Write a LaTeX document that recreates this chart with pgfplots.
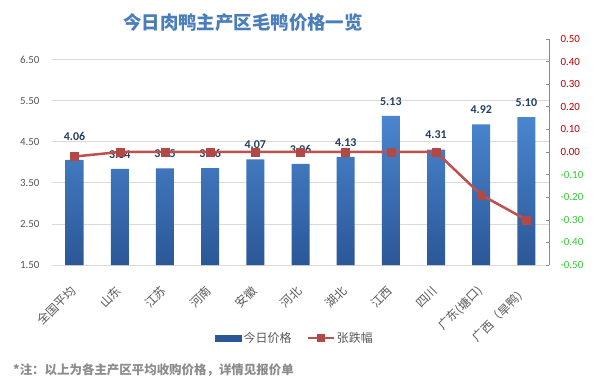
\documentclass[border=0pt]{standalone}
\usepackage{pgfplots}
\pgfplotsset{compat=1.18}
\usepackage{fontspec}
\setmainfont{Carlito}
\newfontfamily\cjk{Noto Sans CJK SC}
\definecolor{barTop}{HTML}{4A86CF}
\definecolor{barBot}{HTML}{2B5797}
\definecolor{lineC}{HTML}{C0504D}
\definecolor{gridC}{HTML}{D9D9D9}
\definecolor{tickC}{HTML}{595959}
\definecolor{labC}{HTML}{243F60}
\definecolor{titleC}{HTML}{4A7EBB}
\definecolor{posC}{HTML}{C00000}
\definecolor{negC}{HTML}{33CC33}
\begin{document}
\begin{tikzpicture}[x=1bp,y=1bp]
\path[use as bounding box] (0,0) rectangle (593,391);
\fill[white] (0,0) rectangle (593,391);
\begin{axis}[at={(52bp,126bp)}, anchor=south west, scale only axis,
  width=497bp, height=226bp,
  xmin=-0.5, xmax=10.5, ymin=1.5, ymax=7.0,
  ybar, bar width=18bp,
  separate axis lines,
  axis x line*=bottom, axis y line*=left,
  x axis line style={draw=gridC, line width=0.8bp, -},
  y axis line style={draw=none},
  major tick length=0pt,
  ymajorgrids, grid style={draw=gridC, line width=0.8bp},
  ytick={1.5,2.5,3.5,4.5,5.5,6.5},
  yticklabels={1.50,2.50,3.50,4.50,5.50,6.50},
  yticklabel style={font=\fontsize{11}{12}\selectfont, text=tickC, xshift=-9bp},
  xtick={0,1,2,3,4,5,6,7,8,9,10},
  xticklabels={全国平均,山东,江苏,河南,安徽,河北,湖北,江西,四川,广东(塘口),广西（旱鸭）},
  xticklabel style={rotate=45, anchor=east, font=\cjk\fontsize{12}{12}\selectfont, text=tickC, yshift=-16bp, xshift=-14bp},
  nodes near coords,
  visualization depends on={value \thisrow{off} \as \off},
  nodes near coords style={font=\fontsize{12}{12}\selectfont\bfseries, text=labC, yshift=\off,
    /pgf/number format/.cd, fixed, fixed zerofill, precision=2, assume math mode=true},
  clip=false,
]
\addplot[draw=none, top color=barTop, bottom color=barBot] table[x=x, y=y] {
x y off
0 4.06 16bp
1 3.84 7bp
2 3.85 7bp
3 3.86 7bp
4 4.07 7bp
5 3.96 7bp
6 4.13 7bp
7 5.13 7bp
8 4.31 7bp
9 4.92 7bp
10 5.10 7bp
};
\end{axis}
\begin{axis}[at={(52bp,126bp)}, anchor=south west, scale only axis,
  width=497bp, height=226bp,
  xmin=-0.5, xmax=10.5, ymin=-0.5, ymax=0.5,
  axis x line=none, axis y line*=right,
  y axis line style={draw=tickC!70, line width=0.6bp, -},
  ytick={-0.5,-0.4,-0.3,-0.2,-0.1,0,0.1,0.2,0.3,0.4,0.5},
  yticklabels={\textcolor{negC}{-0.50},\textcolor{negC}{-0.40},\textcolor{negC}{-0.30},\textcolor{negC}{-0.20},\textcolor{negC}{-0.10},
    \textcolor{posC}{0.00},\textcolor{posC}{0.10},\textcolor{posC}{0.20},\textcolor{posC}{0.30},\textcolor{posC}{0.40},\textcolor{posC}{0.50}},
  tick align=inside, major tick length=3bp,
  tick style={draw=tickC!70, line width=0.6bp},
  yticklabel style={font=\fontsize{11}{12}\selectfont, anchor=west, xshift=8bp},
  clip=false,
  legend style={at={(0.489,-0.323)}, anchor=center, draw=none, fill=none,
    legend columns=2, font=\cjk\fontsize{12}{14}\selectfont, text=tickC,
    /tikz/every even column/.append style={column sep=14bp}},
]
\addlegendimage{legend image code/.code={\fill[barBot] (0bp,-3bp) rectangle (26bp,3bp);}}
\addlegendentry{今日价格}
\addplot[lineC, line width=2.5bp, mark=square*, mark size=4bp,
  mark options={fill=lineC!92!black, draw=lineC!92!black, line width=0.5bp},
  legend image code/.code={\draw[lineC, line width=1.5bp] (0bp,0bp) -- (26bp,0bp);
     \fill[lineC!92!black] (10bp,-3bp) rectangle (16bp,3bp);}]
 coordinates {(0,-0.02) (1,0) (2,0) (3,0) (4,0) (5,0) (6,0) (7,0) (8,0) (9,-0.19) (10,-0.30)};
\addlegendentry{张跌幅}
\end{axis}
\node[anchor=center, text=titleC, font=\cjk\bfseries\fontsize{18.5}{20}\selectfont] at (243,368) {今日肉鸭主产区毛鸭价格一览};
\node[anchor=west, text=gray!90, font=\cjk\bfseries\fontsize{12.5}{14}\selectfont, inner sep=0pt] at (13,21) {*注：以上为各主产区平均收购价格，详情见报价单};
\end{tikzpicture}
\end{document}
